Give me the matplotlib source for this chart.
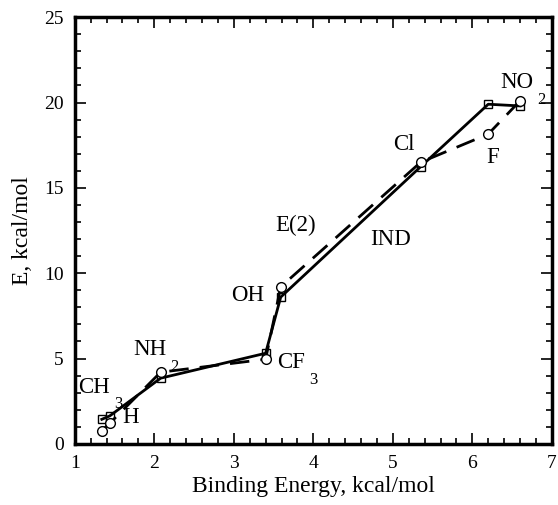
import matplotlib
matplotlib.use("Agg")
import matplotlib.pyplot as plt
from matplotlib.ticker import MultipleLocator

plt.rcParams['font.family'] = ['Liberation Serif', 'DejaVu Serif']

# binding energies of the substituents, kcal/mol
groups = ["CH3", "H", "NH2", "CF3", "OH", "Cl", "F", "NO2"]
binding = [1.34, 1.44, 2.08, 3.40, 3.59, 5.35, 6.20, 6.60]
ind = [1.44, 1.64, 3.85, 5.31, 8.6, 16.24, 19.9, 19.8]
e2 = [0.78, 1.21, 4.2, 4.96, 9.2, 16.5, 18.15, 20.1]

# (main text, subscript, x, y)
labels = [
    ("CH", "3", 1.04, 3.0),
    ("H", "", 1.60, 1.23),
    ("NH", "2", 1.73, 5.2),
    ("CF", "3", 3.55, 4.45),
    ("OH", "", 2.97, 8.35),
    ("E(2)", "", 3.52, 12.5),
    ("IND", "", 4.71, 11.65),
    ("Cl", "", 5.0, 17.2),
    ("F", "", 6.18, 16.45),
    ("NO", "2", 6.35, 20.84),
]

fig = plt.figure(figsize=(5.58, 5.05), dpi=100)
ax = fig.add_axes([0.134, 0.121, 0.855, 0.845])

ax.plot(binding, ind, color="black", lw=2, marker="s", ms=5.5,
        mfc="none", mec="black", mew=1)
ax.plot(binding, e2, color="black", lw=2, ls=(0, (7, 4)), marker="o", ms=7,
        mfc="white", mec="black", mew=1)

for main, sub, x, y in labels:
    t = ax.text(x, y, main, fontsize=16.5, ha="left", va="baseline")
    if sub:
        ax.annotate(sub, xy=(1, 0), xycoords=t, xytext=(3, 1),
                    textcoords="offset points", fontsize=12,
                    ha="left", va="top")

ax.set_xlim(1, 7)
ax.set_ylim(0, 25)
ax.xaxis.set_major_locator(MultipleLocator(1))
ax.xaxis.set_minor_locator(MultipleLocator(0.2))
ax.yaxis.set_major_locator(MultipleLocator(5))
ax.yaxis.set_minor_locator(MultipleLocator(1))
ax.tick_params(which="both", direction="in", top=True, right=True,
               labelsize=14, width=1.2)
ax.tick_params(which="major", length=8, pad=8)
ax.tick_params(which="minor", length=4)
for s in ax.spines.values():
    s.set_linewidth(2.5)

ax.set_xlabel("Binding Energy, kcal/mol", fontsize=17, labelpad=3)
ax.set_ylabel("E, kcal/mol", fontsize=17, labelpad=8)

fig.savefig("out.png", dpi=100)
